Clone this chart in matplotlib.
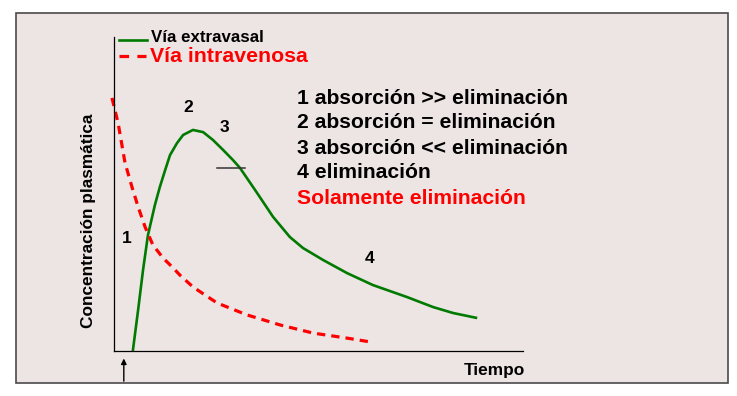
import matplotlib
matplotlib.use('Agg')
import matplotlib.pyplot as plt
from matplotlib.patches import Rectangle
from matplotlib.lines import Line2D

plt.rcParams['font.family'] = ['Liberation Sans', 'DejaVu Sans']
plt.rcParams['font.weight'] = 'bold'

# curves (time, concentration) in arbitrary units
t_extra = [0.46, 0.59, 0.71, 0.83, 1.00, 1.12, 1.25, 1.37, 1.54, 1.69, 1.93,
           2.18, 2.42, 2.67, 2.91, 3.08, 3.28, 3.50, 3.89, 4.30, 4.62, 5.11,
           5.70, 6.33, 7.16, 7.80, 8.29, 8.88]
c_extra = [0.0, 1.31, 2.58, 3.69, 4.65, 5.22, 5.76, 6.24, 6.62, 6.88, 7.04,
           6.97, 6.72, 6.40, 6.08, 5.83, 5.45, 5.03, 4.27, 3.63, 3.28, 2.90,
           2.48, 2.10, 1.72, 1.40, 1.21, 1.05]

t_iv = [-0.05, 0.10, 0.27, 0.44, 0.59, 0.76, 0.95, 1.20, 1.42, 1.61, 1.93,
        2.52, 3.25, 4.06, 4.87, 5.70, 6.26]
c_iv = [8.06, 7.26, 5.99, 5.22, 4.59, 3.95, 3.38, 2.96, 2.68, 2.42, 2.04,
        1.53, 1.15, 0.83, 0.57, 0.41, 0.29]

phase_labels = ['1', '2', '3', '4']
phase_pos = [(0.32, 3.57), (1.81, 7.77), (2.71, 7.13), (6.26, 2.96)]

notes = ['1 absorción >> eliminación', '2 absorción = eliminación',
         '3 absorción << eliminación', '4 eliminación', 'Solamente eliminación']
note_colors = ['black', 'black', 'black', 'black', '#ff0000']

W, H = 737, 396
fig = plt.figure(figsize=(W / 100, H / 100), dpi=100)
fig.patch.set_facecolor('white')


def fx(px):
    return px / W


def fy(py):
    return 1 - py / H


# panel background with border
fig.patches.append(Rectangle((fx(16), fy(383)), fx(728) - fx(16), fy(13) - fy(383),
                             transform=fig.transFigure, facecolor='#ede5e3',
                             edgecolor='#4a4a4a', linewidth=1.2, zorder=-10))

ax = fig.add_axes([fx(114), fy(351), fx(523) - fx(114), fy(37) - fy(351)])
ax.set_zorder(1)
ax.set_facecolor('none')
ax.set_xlim(0, 10)
ax.set_ylim(0, 10)
for s in ['top', 'right']:
    ax.spines[s].set_visible(False)
for s in ['left', 'bottom']:
    ax.spines[s].set_linewidth(0.9)
    ax.spines[s].set_color('black')
ax.set_xticks([])
ax.set_yticks([])

ax.plot(t_extra, c_extra, color='#007a00', lw=1.9, solid_capstyle='butt',
        solid_joinstyle='round')
ax.plot(t_iv, c_iv, color='#ff0000', lw=2.3, linestyle=(0, (2.6, 1.9)), clip_on=False)

for lab, (x, y) in zip(phase_labels, phase_pos):
    ax.text(x, y, lab, fontsize=12.5, fontweight='bold', ha='center', va='center')

ax.plot([2.52, 3.20], [5.83, 5.83], color='#333333', lw=1.1)

# dose arrow under the time axis
ax.annotate('', xy=(0.24, -0.15), xytext=(0.24, -1.05), xycoords='data',
            arrowprops=dict(arrowstyle='-|>', color='black', lw=1.0,
                            mutation_scale=8), annotation_clip=False)

# legend, drawn by hand
fig.lines.append(Line2D([fx(119), fx(147)], [fy(40), fy(40)], transform=fig.transFigure,
                        color='#007a00', lw=1.9))
fig.lines.append(Line2D([fx(119), fx(146)], [fy(56), fy(56)], transform=fig.transFigure,
                        color='#ff0000', lw=2.3, linestyle=(0, (3.0, 2.6))))
fig.text(fx(151), fy(37), 'Vía extravasal', fontsize=12.2, fontweight='bold',
         color='black', va='center', ha='left')
fig.text(fx(150), fy(57), 'Vía intravenosa', fontsize=15.3, fontweight='bold',
         color='#ff0000', va='center', ha='left')

for i, (line, col) in enumerate(zip(notes, note_colors)):
    fig.text(fx(297), fy(98 + 25 * i), line, fontsize=15.2, fontweight='bold',
             color=col, va='center', ha='left')

fig.text(fx(88.5), fy(221), 'Concentración plasmática', rotation=90, fontsize=12.4,
         fontweight='bold', va='center', ha='center')
fig.text(fx(525), fy(371), 'Tiempo', fontsize=12.4, fontweight='bold',
         va='center', ha='right')

fig.savefig('out.png', dpi=100, facecolor='white')
